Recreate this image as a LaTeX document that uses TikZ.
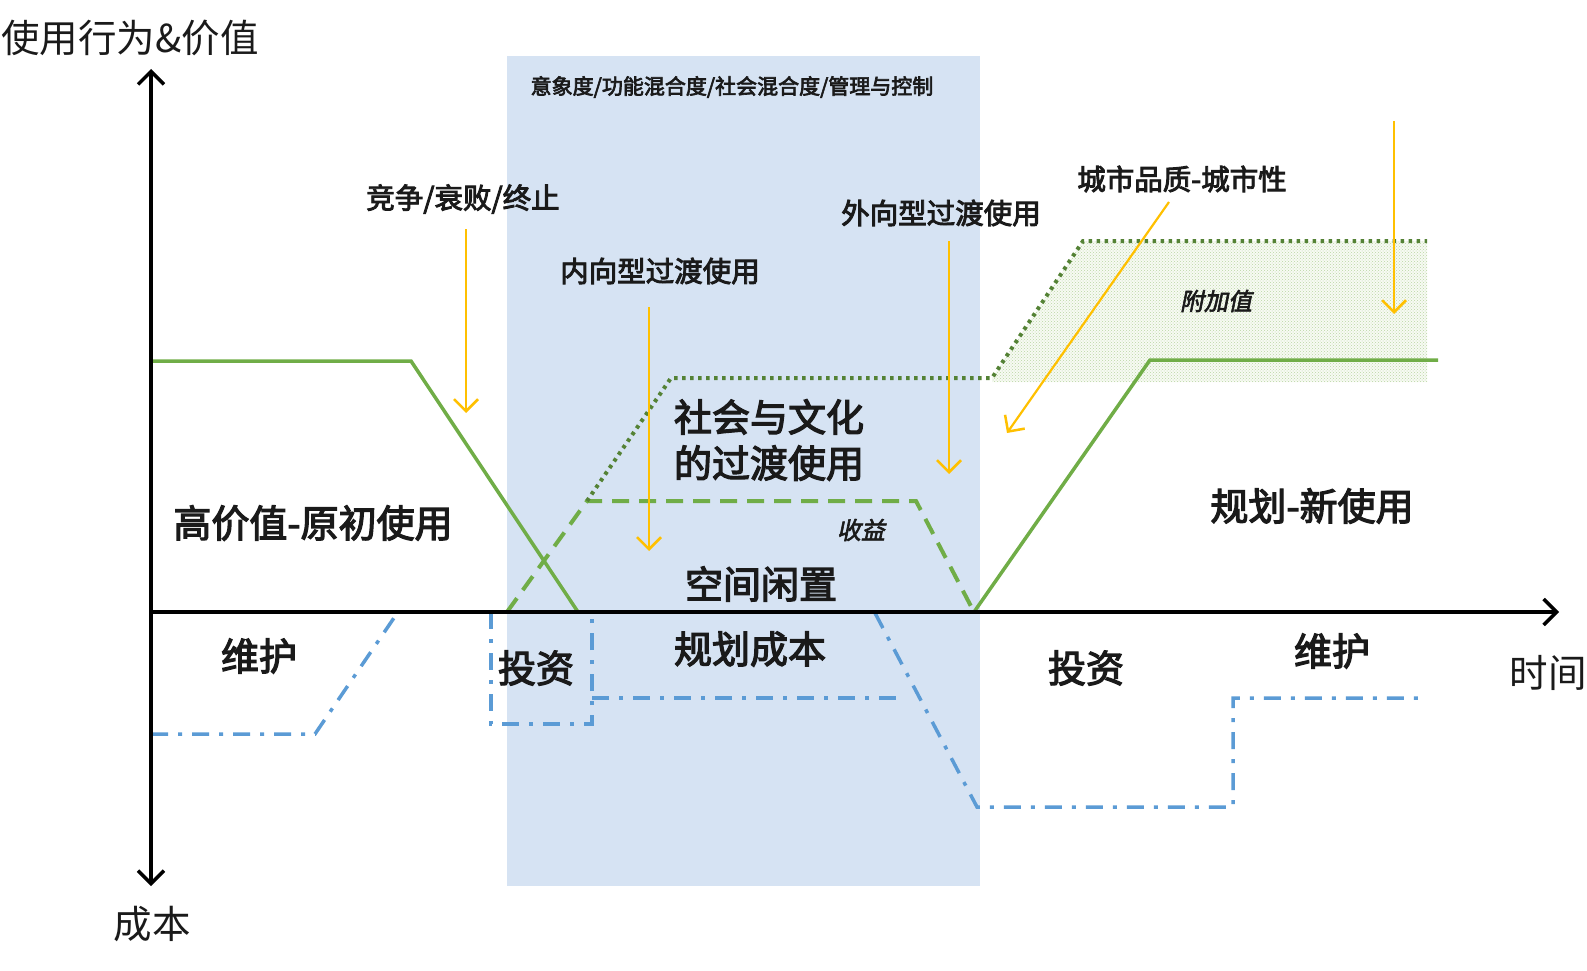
\documentclass[tikz,border=0pt]{standalone}
\usepackage{fontspec}
\setmainfont{Noto Sans CJK SC}
\newfontfamily\cjkmed[FakeBold=3.2]{Noto Sans CJK SC}
\newfontfamily\cjkit[FakeSlant=0.2,FakeBold=2.5]{Noto Sans CJK SC}
\usetikzlibrary{arrows.meta,patterns}
\definecolor{gsolid}{HTML}{70AD47}
\definecolor{gdot}{HTML}{548235}
\definecolor{bline}{HTML}{5B9BD5}
\definecolor{yel}{HTML}{FFC000}
\definecolor{bgblue}{HTML}{D6E3F3}
\definecolor{gshade}{HTML}{F7FAF3}
\definecolor{gpat}{HTML}{B9D6A3}
\definecolor{txt}{HTML}{1A1A1A}
\tikzset{
  axis/.style={line width=3.5pt, black, {Straight Barb[length=13pt,width=26pt,line width=3.5pt]}-{Straight Barb[length=13pt,width=26pt,line width=3.5pt]}},
  xaxis/.style={line width=3.5pt, black, -{Straight Barb[length=13pt,width=26pt,line width=3.5pt]}},
  gline/.style={line width=3.5pt, gsolid, line join=miter},
  gdash/.style={line width=4pt, gsolid, dash pattern=on 17pt off 10pt},
  gdotted/.style={line width=4pt, gdot, dash pattern=on 3.5pt off 4.5pt},
  bdash/.style={line width=3.5pt, bline, dash pattern=on 17pt off 10pt on 4pt off 10pt},
  yarrow/.style={line width=2.2pt, yel, -{Straight Barb[length=12pt,width=24pt,line width=2.5pt]}},
  big/.style={inner sep=0pt, text=txt, font=\fontsize{38}{46}\selectfont\cjkmed},
  axlab/.style={inner sep=0pt, text=txt, font=\fontsize{38.5}{44}\selectfont},
  mid/.style={inner sep=0pt, text=txt, font=\fontsize{28.5}{34}\selectfont\cjkmed},
  small/.style={inner sep=0pt, text=txt, font=\fontsize{21}{26}\selectfont\cjkmed},
  itl/.style={inner sep=0pt, text=txt, font=\fontsize{24}{30}\selectfont\cjkit},
}
\begin{document}
\begin{tikzpicture}[x=1pt,y=-1pt]
\useasboundingbox (0,0) rectangle (1587,971);
% background band
\fill[bgblue] (507,56) rectangle (980,886);
% added value shading
\coordinate (s1) at (992,382);
\coordinate (s2) at (992,378);
\coordinate (s3) at (1083,241);
\coordinate (s4) at (1427,241);
\coordinate (s5) at (1427,382);
\fill[gshade] (s1) -- (s2) -- (s3) -- (s4) -- (s5) -- cycle;
\fill[pattern=crosshatch dots, pattern color=gpat] (s1) -- (s2) -- (s3) -- (s4) -- (s5) -- cycle;

% coordinates
\coordinate (O) at (151,612);
\coordinate (ytop) at (151,69);
\coordinate (ybot) at (151,886);
\coordinate (xend) at (1559,612);

% green solid lines
\coordinate (g1) at (151,361);
\coordinate (g2) at (411,361);
\coordinate (g3) at (578,612);
\coordinate (g4) at (974,612);
\coordinate (g5) at (1150,360);
\coordinate (g6) at (1438,360);
\draw[gline] (g1) -- (g2) -- (g3);
\draw[gline] (g4) -- (g5) -- (g6);

% green dashed (revenue)
\coordinate (d1) at (507,612);
\coordinate (d2) at (587,501);
\coordinate (d3) at (916,501);
\coordinate (d4) at (974,612);
\draw[gdash] (d1) -- (d2) -- (d3) -- (d4);

% green dotted
\coordinate (t2) at (671,378);
\draw[gdotted] (d2) -- (t2) -- (s2) -- (s3) -- (s4);

% blue dash-dot lines
\coordinate (b1) at (151,734);
\coordinate (b2) at (315,734);
\coordinate (b3) at (398,612);
\draw[bdash] (b1) -- (b2) -- (b3);
\coordinate (c1) at (491,612);
\coordinate (c2) at (491,724);
\coordinate (c3) at (592,724);
\coordinate (c4) at (592,612);
\draw[bdash] (c1) -- (c2) -- (c3) -- (c4);
\coordinate (c5) at (592,698);
\coordinate (c6) at (896,698);
\draw[bdash] (c5) -- (c6);
\coordinate (e1) at (875,613);
\coordinate (e2) at (977,807);
\coordinate (e3) at (1233,807);
\coordinate (e4) at (1233,698);
\coordinate (e5) at (1427,698);
\draw[bdash] (e1) -- (e2) -- (e3) -- (e4) -- (e5);

% axes
\draw[axis] (ybot) -- (ytop);
\draw[xaxis] (O) -- (xend);

% axis labels
\node[axlab] (ylab) at (130,38) {使用行为\&价值};
\node[axlab] (cost) at (152,924) {成本};
\node[axlab] (time) at (1548,673) {时间};

% labels
\node[small] (top) at (732,87) {意象度/功能混合度/社会混合度/管理与控制};
\node[mid] (comp) at (463,199) {竞争/衰败/终止};
\node[mid] (inner) at (660,271) {内向型过渡使用};
\node[mid] (outer) at (941,213) {外向型过渡使用};
\node[mid] (urban) at (1182,179) {城市品质-城市性};
\node[itl] (added) at (1216,301) {附加值};
\node[big, align=center] (social) at (769,440) {社会与文化\\的过渡使用};
\node[big] (high) at (313,523) {高价值-原初使用};
\node[itl] (rev) at (861,530) {收益};
\node[big] (idle) at (761,584) {空间闲置};
\node[big] (newuse) at (1312,506) {规划-新使用};
\node[big] (maint1) at (259,656) {维护};
\node[big] (inv1) at (536,668) {投资};
\node[big] (plan) at (750,649) {规划成本};
\node[big] (inv2) at (1086,668) {投资};
\node[big] (maint2) at (1332,651) {维护};

% yellow arrows
\coordinate (y1a) at (466,229); \coordinate (y1b) at (466,413);
\coordinate (y2a) at (649,307); \coordinate (y2b) at (649,551);
\coordinate (y3a) at (949,241); \coordinate (y3b) at (949,474);
\coordinate (y4a) at (1169,202); \coordinate (y4b) at (1007,433);
\coordinate (y5a) at (1394,121); \coordinate (y5b) at (1394,314);
\draw[yarrow] (y1a) -- (y1b);
\draw[yarrow] (y2a) -- (y2b);
\draw[yarrow] (y3a) -- (y3b);
\draw[yarrow] (y4a) -- (y4b);
\draw[yarrow] (y5a) -- (y5b);
\end{tikzpicture}
\end{document}
